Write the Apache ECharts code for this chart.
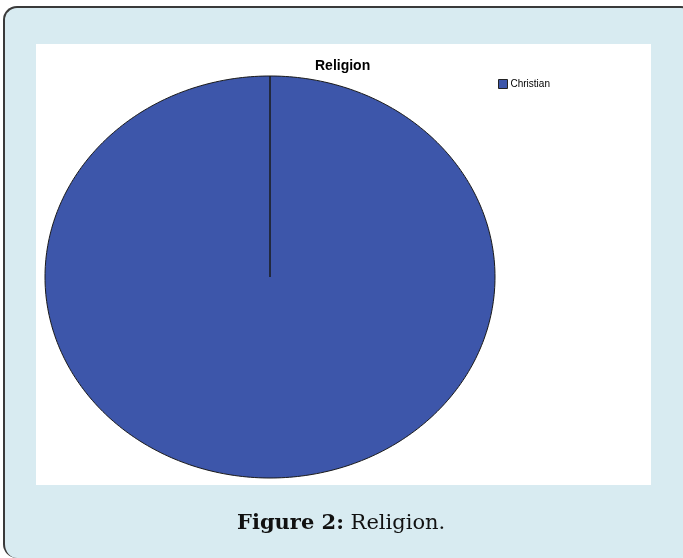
<!DOCTYPE html>
<html><head><meta charset="utf-8">
<script src="https://cdn.jsdelivr.net/npm/echarts@6/dist/echarts.min.js"></script>
<style>
html,body{margin:0;padding:0;width:683px;height:558px;overflow:hidden;background:#ffffff;}
#frame{position:absolute;left:3px;top:6px;width:690px;height:550px;background:#d8ebf1;border-left:2px solid #3a3a3a;border-top:2px solid #3a3a3a;border-radius:14px;}
#chart{position:absolute;left:0;top:0;width:683px;height:558px;}
</style>
</head><body>
<div id="frame"></div>
<div id="chart"></div>
<script>
// ---- data ----
const categories = ['Christian'];
const values = [100];
const chartTitle = 'Religion';
const captionBold = 'Figure 2:';
const captionText = ' Religion.';

const total = values.reduce((a, b) => a + b, 0);
const starts = [];
values.reduce((acc, v, i) => { starts[i] = acc; return acc + v; }, 0);

const PIE = { cx: 270, cy: 277, rx: 225, ry: 201 };
const colors = ['#3d56aa'];

const chart = echarts.init(document.getElementById('chart'), null, { renderer: 'canvas' });

const series = categories.map((name, i) => ({
  type: 'custom',
  name: name,
  coordinateSystem: 'none',
  data: [[i, values[i]]],
  itemStyle: { color: colors[i % colors.length] },
  renderItem: function (params, api) {
    const idx = api.value(0);
    const v = api.value(1);
    const a0 = -Math.PI / 2 + 2 * Math.PI * starts[idx] / total;
    const a1 = a0 + 2 * Math.PI * v / total;
    const n = 360;
    const pts = [[PIE.cx, PIE.cy]];
    for (let k = 0; k <= n; k++) {
      const t = a0 + (a1 - a0) * k / n;
      pts.push([PIE.cx + PIE.rx * Math.cos(t), PIE.cy + PIE.ry * Math.sin(t)]);
    }
    return {
      type: 'polygon',
      shape: { points: pts },
      style: { fill: colors[idx % colors.length], stroke: '#1a1a1a', lineWidth: 1 }
    };
  }
}));

chart.setOption({
  animation: false,
  graphic: [
    { type: 'rect', z: -10, shape: { x: 36, y: 44, width: 615, height: 441 }, style: { fill: '#ffffff' } },
    {
      type: 'text', left: 237, top: 513,
      style: {
        text: '{b|' + captionBold + '}{r|' + captionText + '}',
        rich: {
          b: { fontFamily: 'DejaVu Serif', fontWeight: 'bold', fontSize: 21, fill: '#111' },
          r: { fontFamily: 'DejaVu Serif', fontSize: 21, fill: '#111' }
        }
      }
    }
  ],
  title: {
    text: chartTitle, left: 315, top: 59, padding: 0,
    textStyle: { fontFamily: 'Liberation Sans', fontWeight: 'bold', fontSize: 14, color: '#000' }
  },
  legend: {
    data: categories, left: 498, top: 79, orient: 'vertical', padding: 0,
    itemWidth: 9, itemHeight: 9, icon: 'rect', itemGap: 4,
    itemStyle: { borderColor: '#222', borderWidth: 1 },
    textStyle: { fontFamily: 'Liberation Sans', fontSize: 10, color: '#000', padding: [0, 0, 0, -2] }
  },
  series: series
});
</script>
</body></html>
